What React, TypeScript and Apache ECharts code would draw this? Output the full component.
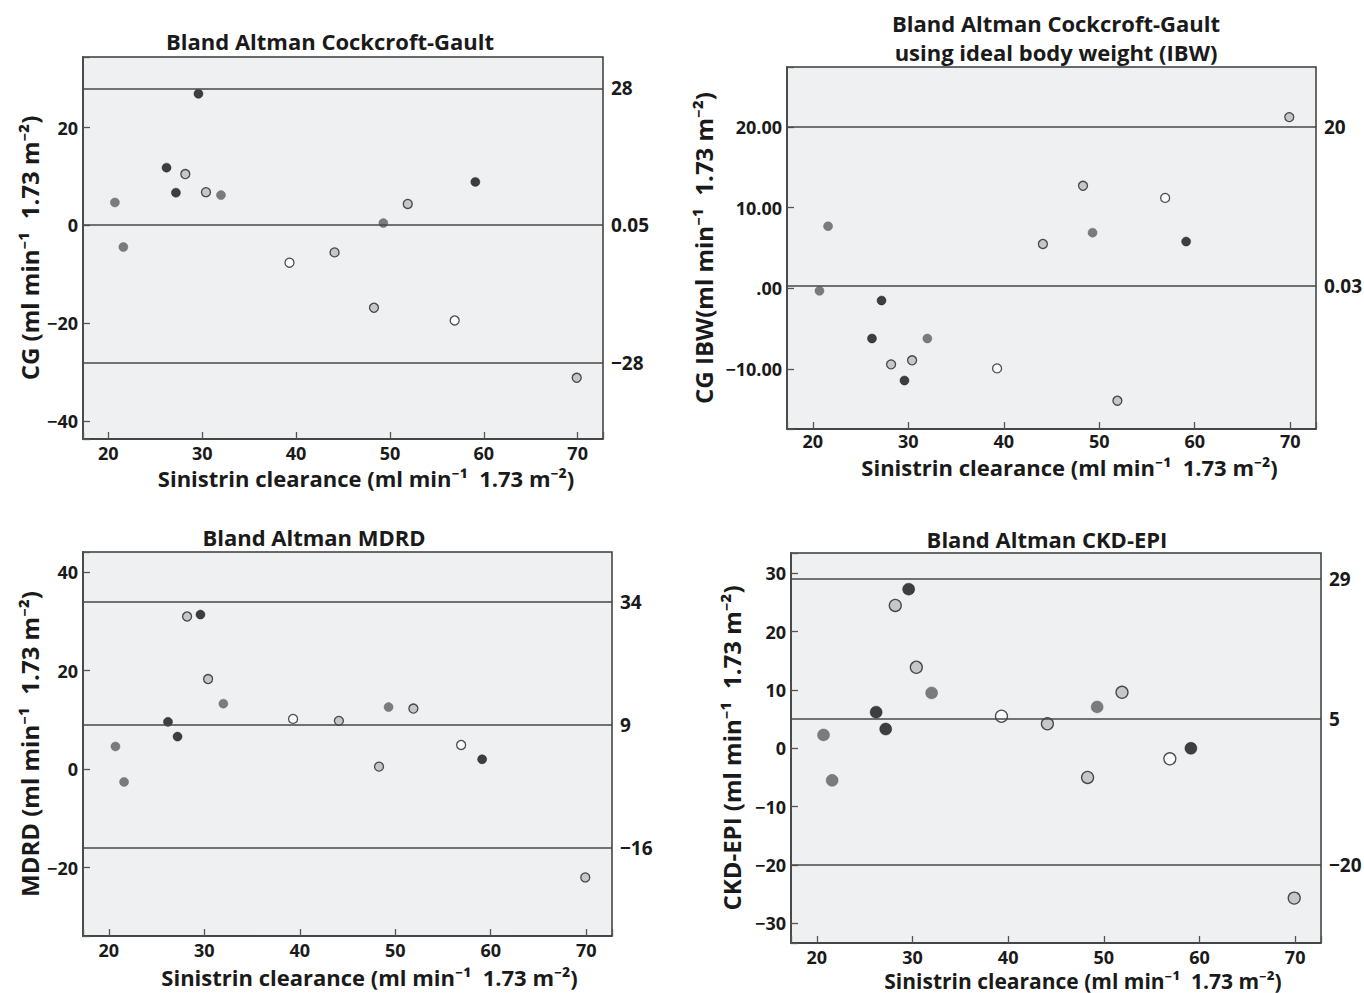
import React, { useEffect, useRef } from "react";
import * as echarts from "echarts";

// Sinistrin clearance (x) shared by all four panels
const clearance = [20.7, 21.6, 26.2, 27.2, 28.2, 29.6, 30.4, 32.0, 39.3, 44.1, 48.3, 49.3, 51.9, 56.9, 59.1, 69.9];
// marker shading group of each subject
const pointGroup = ["dark", "dark", "black", "black", "light", "black", "light", "dark", "white", "light", "light", "dark", "light", "white", "black", "light"];

// differences per estimating equation
const cgDiff = [4.7, -4.4, 11.8, 6.7, 10.5, 26.9, 6.8, 6.2, -7.6, -5.5, -16.8, 0.5, 4.4, -19.4, 8.9, -31.1];
const cgIbwDiff = [-0.3, 7.7, -6.2, -1.5, -9.4, -11.4, -8.9, -6.2, -9.9, 5.5, 12.7, 6.9, -13.9, 11.2, 5.8, 21.2];
const mdrdDiff = [4.6, -2.6, 9.6, 6.6, 31.0, 31.4, 18.3, 13.3, 10.2, 9.8, 0.5, 12.6, 12.3, 4.9, 2.0, -22.0];
const ckdDiff = [2.3, -5.5, 6.2, 3.3, 24.5, 27.3, 13.9, 9.5, 5.5, 4.2, -5.0, 7.1, 9.6, -1.8, 0.0, -25.7];

// mean and limits of agreement lines, with their printed labels
const cgLines = [28, 0.05, -28];
const cgLineLabels = ["28", "0.05", "−28"];
const cgIbwLines = [20, 0.3];
const cgIbwLineLabels = ["20", "0.03"];
const mdrdLines = [34, 9, -16];
const mdrdLineLabels = ["34", "9", "−16"];
const ckdLines = [29, 5, -20];
const ckdLineLabels = ["29", "5", "−20"];

const titles = [
  "Bland Altman Cockcroft-Gault",
  "Bland Altman Cockcroft-Gault\nusing ideal body weight (IBW)",
  "Bland Altman MDRD",
  "Bland Altman CKD-EPI",
];
const yNames = [
  "CG (ml min⁻¹  1.73 m⁻²)",
  "CG IBW(ml min⁻¹  1.73 m⁻²)",
  "MDRD (ml min⁻¹  1.73 m⁻²)",
  "CKD-EPI (ml min⁻¹  1.73 m⁻²)",
];
const xName = "Sinistrin clearance (ml min⁻¹  1.73 m⁻²)";

const FONT = "'Open Sans', 'Noto Sans', 'DejaVu Sans', sans-serif";
const X_MIN = 17.3;
const X_MAX = 72.7;

const groupStyle: Record<string, any> = {
  black: { color: "#111111", borderColor: "#111111", borderWidth: 0.5 },
  dark: { color: "#5e5e5e", borderColor: "#5e5e5e", borderWidth: 0.5 },
  light: { color: "#bdbdbd", borderColor: "#222222", borderWidth: 1.3 },
  white: { color: "#ffffff", borderColor: "#222222", borderWidth: 1.3 },
};

const minusify = (s: string) => s.replace("-", "−");

const panels = [
  {
    grid: { left: 83, top: 57, width: 520, height: 382 },
    yMin: -43.6, yMax: 34.4, yStep: 20, decimals: 0,
    values: cgDiff, lines: cgLines, lineLabels: cgLineLabels, size: 9,
    title: { x: 330, y: 41 }, yGap: 42, xGap: 28, xShift: 23, xMargin: 5, xNameSize: 22,
  },
  {
    grid: { left: 787, top: 67, width: 529, height: 362 },
    yMin: -17.4, yMax: 27.4, yStep: 10, decimals: 2,
    values: cgIbwDiff, lines: cgIbwLines, lineLabels: cgIbwLineLabels, size: 9,
    title: { x: 1056, y: 37 }, yGap: 72, xGap: 27, xShift: 18, xMargin: 3, xNameSize: 22,
  },
  {
    grid: { left: 83, top: 552, width: 529, height: 384 },
    yMin: -33.9, yMax: 44.1, yStep: 20, decimals: 0,
    values: mdrdDiff, lines: mdrdLines, lineLabels: mdrdLineLabels, size: 9,
    title: { x: 314, y: 537 }, yGap: 42, xGap: 30, xShift: 22, xMargin: 5, xNameSize: 22,
  },
  {
    grid: { left: 791, top: 553, width: 530, height: 390 },
    yMin: -33.4, yMax: 33.5, yStep: 10, decimals: 0,
    values: ckdDiff, lines: ckdLines, lineLabels: ckdLineLabels, size: 12,
    title: { x: 1047, y: 539 }, yGap: 48, xGap: 27, xShift: 27, xMargin: 5, xNameSize: 21,
  },
];

const isStep = (v: number, step: number) => Math.abs(v / step - Math.round(v / step)) < 1e-6;

export default function App() {
  const ref = useRef<HTMLDivElement>(null);

  useEffect(() => {
    if (!ref.current) return;
    const chart = echarts.init(ref.current, undefined, { renderer: "svg" });

    const tickLabel = { fontFamily: FONT, fontWeight: "bold" as const, fontSize: 18, lineHeight: 18, color: "#1a1a1a" };
    const nameStyle = { fontFamily: FONT, fontWeight: "bold" as const, color: "#1a1a1a" };

    const option: any = {
      animation: false,
      backgroundColor: "#ffffff",
      grid: panels.map((p) => ({
        ...p.grid,
        show: true,
        backgroundColor: "#eff0f2",
        borderColor: "#3a3a3a",
        borderWidth: 1.5,
        containLabel: false,
      })),
      xAxis: panels.map((p, i) => ({
        type: "value",
        gridIndex: i,
        min: X_MIN,
        max: X_MAX,
        splitNumber: 5,
        splitLine: { show: false },
        axisLine: { show: true, onZero: false, lineStyle: { color: "#3a3a3a", width: 1.5 } },
        axisTick: { show: true, inside: true, length: 7, lineStyle: { color: "#555", width: 1.3 } },
        axisLabel: {
          ...tickLabel,
          margin: p.xMargin,
          formatter: (v: number) => (isStep(v, 10) ? String(Math.round(v)) : ""),
        },
        name: xName,
        nameLocation: "middle",
        nameGap: p.xGap,
        nameTextStyle: {
          ...nameStyle,
          fontSize: p.xNameSize,
          lineHeight: p.xNameSize,
          padding: [0, 0, 0, p.xShift * 2],
        },
      })),
      yAxis: panels.map((p, i) => ({
        type: "value",
        gridIndex: i,
        min: p.yMin,
        max: p.yMax,
        splitNumber: 5,
        splitLine: { show: false },
        axisLine: { show: true, onZero: false, lineStyle: { color: "#4a4a4a", width: 2 } },
        axisTick: { show: true, inside: true, length: 7, lineStyle: { color: "#555", width: 1.3 } },
        axisLabel: {
          ...tickLabel,
          margin: 5,
          formatter: (v: number) => {
            if (!isStep(v, p.yStep)) return "";
            if (p.decimals > 0) {
              if (Math.abs(v) < 1e-9) return ".00";
              return minusify(v.toFixed(p.decimals));
            }
            return minusify(String(Math.round(v)));
          },
        },
        name: yNames[i],
        nameLocation: "middle",
        nameGap: p.yGap,
        nameTextStyle: { ...nameStyle, fontSize: 24, lineHeight: 24 },
      })),
      series: panels.map((p, i) => ({
        type: "scatter",
        xAxisIndex: i,
        yAxisIndex: i,
        symbol: "circle",
        symbolSize: p.size,
        data: clearance.map((x, j) => ({ value: [x, p.values[j]], itemStyle: groupStyle[pointGroup[j]] })),
        emphasis: { disabled: true },
        markLine: {
          silent: true,
          symbol: "none",
          animation: false,
          lineStyle: { color: "#474747", width: 1.5, type: "solid" },
          label: {
            show: true,
            position: "end",
            distance: 8,
            fontFamily: FONT,
            fontWeight: "bold",
            fontSize: 19,
            color: "#1a1a1a",
          },
          emphasis: { disabled: true },
          data: p.lines.map((v, k) => ({ yAxis: v, label: { formatter: p.lineLabels[k] } })),
        },
      })),
      graphic: panels.map((p, i) => ({
        type: "text",
        x: p.title.x,
        y: p.title.y,
        silent: true,
        style: {
          text: titles[i],
          align: "center",
          verticalAlign: "middle",
          fontFamily: FONT,
          fontWeight: "bold",
          fontSize: 22,
          lineHeight: 29,
          fill: "#1a1a1a",
        },
      })),
    };

    chart.setOption(option);
    return () => chart.dispose();
  }, []);

  return (
    <div
      ref={ref}
      style={{ position: "fixed", left: 0, top: 0, width: 1364, height: 993, background: "#fff" }}
    />
  );
}
